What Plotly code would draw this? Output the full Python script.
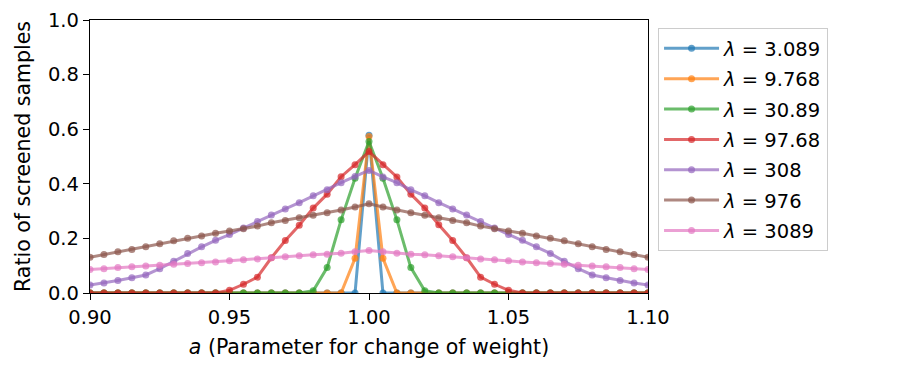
import plotly.graph_objects as go

# 横轴: a (0.90 ~ 1.10, 步长 0.005)
a_values = [0.900, 0.905, 0.910, 0.915, 0.920, 0.925, 0.930, 0.935, 0.940, 0.945,
            0.950, 0.955, 0.960, 0.965, 0.970, 0.975, 0.980, 0.985, 0.990, 0.995,
            1.000, 1.005, 1.010, 1.015, 1.020, 1.025, 1.030, 1.035, 1.040, 1.045,
            1.050, 1.055, 1.060, 1.065, 1.070, 1.075, 1.080, 1.085, 1.090, 1.095,
            1.100]

lam_labels = ["3.089", "9.768", "30.89", "97.68", "308", "976", "3089"]

ratio_3_089 = [0.0] * 20 + [0.578] + [0.0] * 20

ratio_9_768 = [0.0] * 19 + [0.127, 0.573, 0.127] + [0.0] * 19

ratio_30_89 = ([0.0] * 16 + [0.008, 0.093, 0.268, 0.420, 0.555, 0.420, 0.268, 0.093, 0.008]
               + [0.0] * 16)

ratio_97_68 = ([0.0] * 10
               + [0.010, 0.032, 0.058, 0.129, 0.192, 0.248, 0.311, 0.362, 0.426, 0.470,
                  0.518,
                  0.470, 0.425, 0.362, 0.311, 0.250, 0.192, 0.129, 0.058, 0.032, 0.010]
               + [0.0] * 10)

ratio_308 = [0.029, 0.037, 0.046, 0.056, 0.066, 0.089, 0.116, 0.145, 0.169, 0.193,
             0.214, 0.238, 0.262, 0.286, 0.308, 0.331, 0.356, 0.378, 0.404, 0.427,
             0.449,
             0.425, 0.404, 0.378, 0.356, 0.331, 0.308, 0.286, 0.262, 0.238, 0.214,
             0.193, 0.169, 0.145, 0.116, 0.089, 0.066, 0.056, 0.046, 0.037, 0.029]

ratio_976 = [0.131, 0.141, 0.151, 0.159, 0.169, 0.180, 0.191, 0.201, 0.209, 0.219,
             0.227, 0.235, 0.245, 0.257, 0.266, 0.276, 0.285, 0.294, 0.304, 0.315,
             0.327,
             0.315, 0.304, 0.294, 0.285, 0.276, 0.266, 0.257, 0.245, 0.235, 0.227,
             0.219, 0.209, 0.201, 0.191, 0.180, 0.169, 0.159, 0.151, 0.141, 0.131]

ratio_3089 = [0.086, 0.089, 0.093, 0.096, 0.099, 0.102, 0.105, 0.108, 0.111, 0.114,
              0.118, 0.122, 0.125, 0.129, 0.133, 0.136, 0.140, 0.142, 0.146, 0.151,
              0.156,
              0.151, 0.146, 0.142, 0.140, 0.136, 0.133, 0.129, 0.125, 0.122, 0.118,
              0.114, 0.111, 0.108, 0.105, 0.102, 0.099, 0.096, 0.093, 0.089, 0.086]

series = [ratio_3_089, ratio_9_768, ratio_30_89, ratio_97_68, ratio_308, ratio_976, ratio_3089]

# matplotlib tab10 颜色, alpha 0.7
colors = ["31,119,180", "255,127,14", "44,160,44", "214,39,40",
          "148,103,189", "140,86,75", "227,119,194"]

FONT = "DejaVu Sans"
FS_TICK = 19.5
FS_TITLE = 20.5
FS_LEG = 19.5

fig = go.Figure()
for i, (lab, ys) in enumerate(zip(lam_labels, series)):
    c = f"rgba({colors[i]},0.7)"
    fig.add_trace(go.Scatter(
        x=a_values, y=ys, mode="lines+markers",
        name=f"<i>λ</i> = {lab}",
        legendgroup=f"g{i}",
        line=dict(color=c, width=3),
        marker=dict(color=c, size=7),
    ))

axis_common = dict(
    showline=True, mirror=True, linecolor="black", linewidth=1.3,
    ticks="outside", ticklen=6, tickwidth=1.3, tickcolor="black",
    showgrid=False, zeroline=False, ticklabeloverflow="allow",
    tickfont=dict(family=FONT, size=FS_TICK, color="black"),
)

fig.update_xaxes(
    range=[0.9, 1.1], tickvals=[0.90, 0.95, 1.00, 1.05, 1.10], tickformat=".2f",
    title=dict(text="<i>a</i> (Parameter for change of weight)",
               font=dict(family=FONT, size=FS_TITLE, color="black"), standoff=12),
    **axis_common,
)
fig.update_yaxes(
    range=[0, 1], dtick=0.2, tickformat=".1f",
    title=dict(text="Ratio of screened samples",
               font=dict(family=FONT, size=FS_TITLE, color="black"), standoff=11),
    **axis_common,
)

# 页面 body 自带 8px 边距, 所以整体缩小 8px
fig.update_layout(
    width=892, height=367,
    margin=dict(l=82, r=252, t=12, b=82, autoexpand=False),
    plot_bgcolor="white", paper_bgcolor="white",
    font=dict(family=FONT, size=FS_TICK, color="black"),
    legend=dict(
        x=1.018, y=0.97, xanchor="left", yanchor="top",
        bgcolor="white", bordercolor="#cccccc", borderwidth=1,
        font=dict(family=FONT, size=FS_LEG, color="black"),
        traceorder="grouped", tracegroupgap=2, itemwidth=55,
    ),
)

fig.write_html("out.html")
